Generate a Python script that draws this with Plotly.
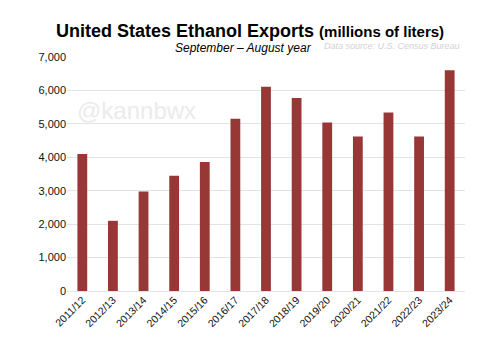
import plotly.graph_objects as go

years = ["2011/12", "2012/13", "2013/14", "2014/15", "2015/16", "2016/17", "2017/18",
         "2018/19", "2019/20", "2020/21", "2021/22", "2022/23", "2023/24"]
exports = [4100, 2100, 2980, 3450, 3860, 5150, 6110, 5770, 5040, 4620, 5340, 4620, 6600]
y_ticks = [0, 1000, 2000, 3000, 4000, 5000, 6000, 7000]

fig = go.Figure(go.Bar(
    x=years, y=exports,
    marker=dict(color="#973736", line=dict(width=0)),
    width=0.32,
))

L, R, T, B = 67, 35, 57, 59
pw = 500 - L - R
ph = 350 - T - B
def px(x):
    return (x - L) / pw
def py(y):
    return (350 - B - y) / ph

fig.update_layout(
    width=500, height=350,
    margin=dict(l=L, r=R, t=T, b=B),
    paper_bgcolor="white", plot_bgcolor="white",
    font=dict(family="Liberation Sans, Arial, sans-serif", color="#111"),
    showlegend=False,
    xaxis=dict(tickangle=-45, tickfont=dict(size=10.5), showgrid=False,
               showline=False, ticks="", range=[-0.5, 12.5]),
    yaxis=dict(range=[0, 7000], tickvals=y_ticks, tickformat=",d",
               tickfont=dict(size=11), gridcolor="#e3e3e3", gridwidth=1,
               zeroline=True, zerolinecolor="#e3e3e3", zerolinewidth=1,
               ticks="", ticklen=0),
    annotations=[
        dict(text="<b>United States Ethanol Exports</b> <b><span style='font-size:15px'>(millions of liters)</span></b>",
             x=px(250), y=py(31), xref="paper", yref="paper", showarrow=False,
             font=dict(size=18, color="#000"), xanchor="center", yanchor="middle"),
        dict(text="<i>September – August year</i>", x=px(243), y=py(48),
             xref="paper", yref="paper", showarrow=False,
             xanchor="center", yanchor="middle",
             font=dict(size=12, color="#000")),
        dict(text="<i>Data source: U.S. Census Bureau</i>", x=px(322), y=py(46.5),
             xref="paper", yref="paper", showarrow=False,
             xanchor="left", yanchor="middle",
             font=dict(size=9, color="#d2d2d2")),
        dict(text="@kannbwx", x=px(75), y=py(110), xref="paper", yref="paper",
             showarrow=False, xanchor="left", yanchor="middle",
             font=dict(size=24, color="#ebebeb")),
    ],
)

fig.write_html("out.html")
